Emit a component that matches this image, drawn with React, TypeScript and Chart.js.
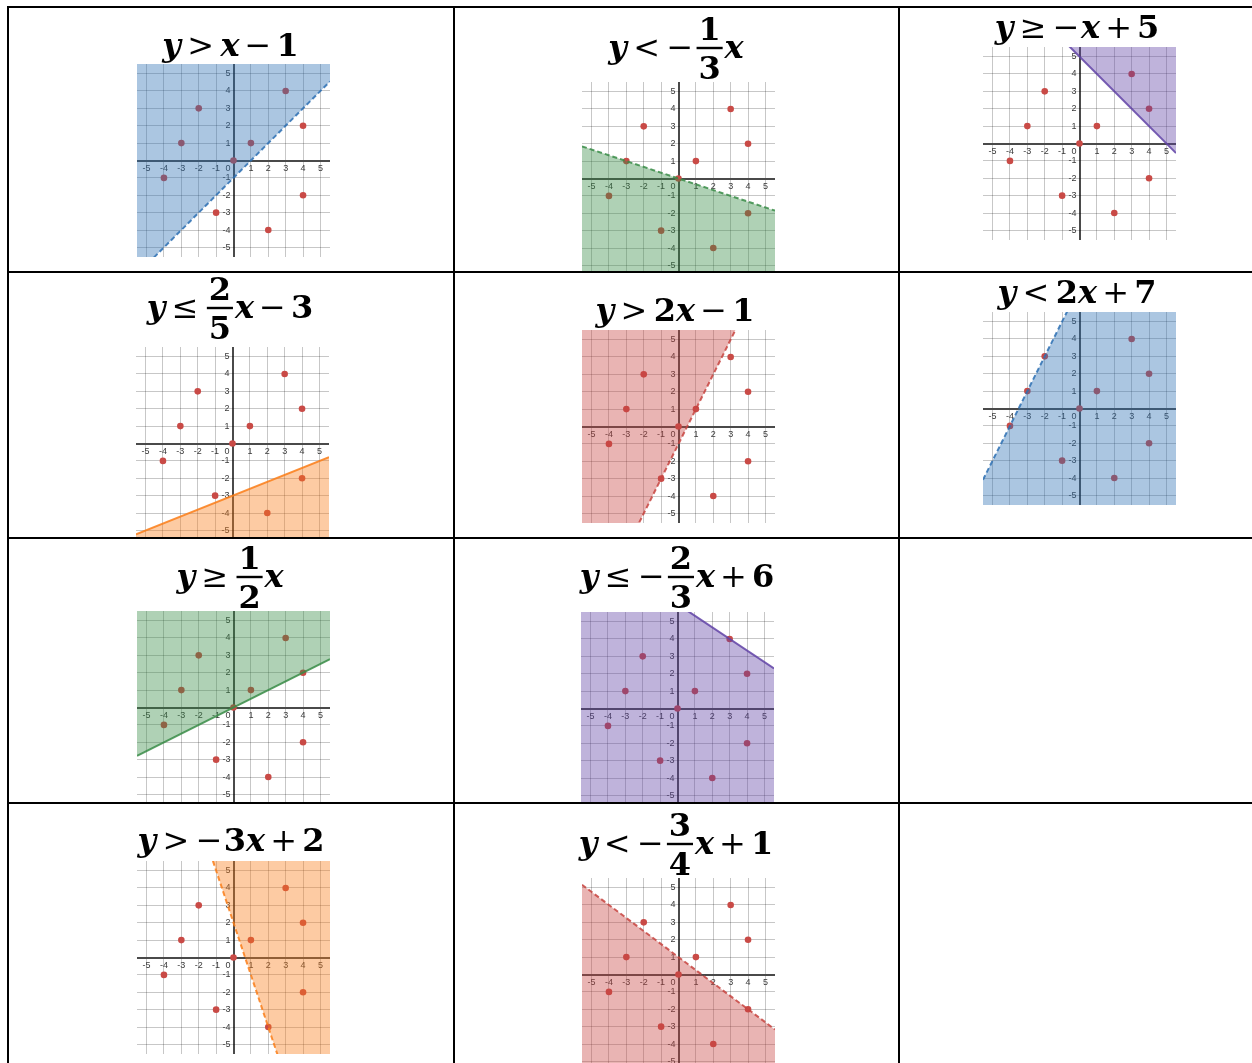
import React, { useEffect, useRef } from 'react';
import { Chart, registerables } from 'chart.js';

Chart.register(...registerables);

// ---------- data ----------
const pointX = [-4, -3, -2, -1, 0, 1, 2, 3, 4, 4];
const pointY = [-1, 1, 3, -3, 0, 1, -4, 4, 2, -2];
const tickValues = [-5, -4, -3, -2, -1, 0, 1, 2, 3, 4, 5];
const tickLabels = ['-5', '-4', '-3', '-2', '-1', '0', '1', '2', '3', '4', '5'];
const slopes = [1, -1 / 3, -1, 2 / 5, 2, 2, 1 / 2, -2 / 3, -3, -3 / 4];
const intercepts = [-1, 0, 5, -3, -1, 7, 0, 6, 2, 1];
const relations = ['>', '<', '≥', '≤', '>', '<', '≥', '≤', '>', '<'];
const axisMin = -5.55;
const axisMax = 5.55;

// title text, token kinds: v variable, n number, r relation, b binary op, u unary minus, f fraction
const titleTokens: string[][][] = [
  [['v', 'y'], ['r', '>'], ['v', 'x'], ['b', '−'], ['n', '1']],
  [['v', 'y'], ['r', '<'], ['u', '−'], ['f', '1', '3'], ['v', 'x']],
  [['v', 'y'], ['r', '≥'], ['u', '−'], ['v', 'x'], ['b', '+'], ['n', '5']],
  [['v', 'y'], ['r', '≤'], ['f', '2', '5'], ['v', 'x'], ['b', '−'], ['n', '3']],
  [['v', 'y'], ['r', '>'], ['n', '2'], ['v', 'x'], ['b', '−'], ['n', '1']],
  [['v', 'y'], ['r', '<'], ['n', '2'], ['v', 'x'], ['b', '+'], ['n', '7']],
  [['v', 'y'], ['r', '≥'], ['f', '1', '2'], ['v', 'x']],
  [['v', 'y'], ['r', '≤'], ['u', '−'], ['f', '2', '3'], ['v', 'x'], ['b', '+'], ['n', '6']],
  [['v', 'y'], ['r', '>'], ['u', '−'], ['n', '3'], ['v', 'x'], ['b', '+'], ['n', '2']],
  [['v', 'y'], ['r', '<'], ['u', '−'], ['f', '3', '4'], ['v', 'x'], ['b', '+'], ['n', '1']],
];

// ---------- styles / layout ----------
const shadeNames = ['blue', 'green', 'purple', 'orange', 'red', 'blue', 'green', 'purple', 'orange', 'red'];
const palette: Record<string, number[]> = {
  blue: [45, 112, 179],
  green: [56, 140, 70],
  purple: [96, 66, 166],
  orange: [250, 126, 25],
  red: [199, 68, 64],
};
const cellCols = [0, 1, 2, 0, 1, 2, 0, 1, 0, 1];
const cellRows = [0, 0, 0, 1, 1, 1, 2, 2, 3, 3];
const plotLefts = [137, 582, 983, 136, 582, 983, 137, 581, 137, 582];
const plotTops = [64, 82, 47, 347, 330, 312, 611, 612, 861, 878];
const titleCenters = [230.5, 676, 1077, 230, 675, 1077, 230, 677, 231, 676];
const titleBaselines = [56, 58, 38, 318, 321, 303, 587, 587, 851, 854];
const plotSize = 193;
const colLefts = [9, 455, 900];
const colRights = [453, 898, 1252];
const rowTops = [8, 273, 539, 804];
const rowBottoms = [271, 537, 802, 1063];
const canvasHeight = 300;
const titleFont = 32;

function drawMath(ctx: CanvasRenderingContext2D, tokens: string[][], cx: number, base: number, fs: number) {
  const fam = '"DejaVu Serif", serif';
  const fVar = `italic bold ${fs}px ${fam}`;
  const fNum = `bold ${fs}px ${fam}`;
  const fOp = `${fs}px ${fam}`;
  const relGap = fs * 0.2;
  const binGap = fs * 0.16;
  const fracPad = fs * 0.06;
  const items = tokens.map((t) => {
    let w = 0, l = 0, r = 0;
    const k = t[0];
    if (k === 'v') { ctx.font = fVar; w = ctx.measureText(t[1]).width; }
    else if (k === 'n') { ctx.font = fNum; w = ctx.measureText(t[1]).width; }
    else if (k === 'r') { ctx.font = fOp; w = ctx.measureText(t[1]).width; l = r = relGap; }
    else if (k === 'b') { ctx.font = fOp; w = ctx.measureText(t[1]).width; l = r = binGap; }
    else if (k === 'u') { ctx.font = fOp; w = ctx.measureText(t[1]).width; r = fs * 0.04; }
    else if (k === 'f') {
      ctx.font = fNum;
      w = Math.max(ctx.measureText(t[1]).width, ctx.measureText(t[2]).width) + fs * 0.12;
      l = r = fracPad;
    }
    return { t, w, l, r };
  });
  let total = 0;
  items.forEach((it) => (total += it.l + it.w + it.r));
  total -= items[0].l + items[items.length - 1].r;
  let x = cx - total / 2 - items[0].l;
  ctx.save();
  ctx.fillStyle = '#000';
  ctx.textBaseline = 'alphabetic';
  ctx.textAlign = 'left';
  items.forEach((it) => {
    x += it.l;
    const k = it.t[0];
    if (k === 'f') {
      ctx.font = fNum;
      ctx.textAlign = 'center';
      ctx.fillText(it.t[1], x + it.w / 2, base - fs * 0.56);
      ctx.fillText(it.t[2], x + it.w / 2, base + fs * 0.66);
      ctx.textAlign = 'left';
      ctx.fillRect(x, base - fs * 0.31 - fs * 0.04, it.w, fs * 0.075);
    } else {
      ctx.font = k === 'v' ? fVar : k === 'n' ? fNum : fOp;
      ctx.fillText(it.t[1], x, base);
    }
    x += it.w + it.r;
  });
  ctx.restore();
}

function Graph({ idx }: { idx: number }) {
  const ref = useRef<HTMLCanvasElement | null>(null);
  const col = cellCols[idx];
  const row = cellRows[idx];
  const cellLeft = colLefts[col];
  const cellTop = rowTops[row];
  const cellW = colRights[col] - colLefts[col];
  const cellH = rowBottoms[row] - rowTops[row];

  useEffect(() => {
    const canvas = ref.current;
    if (!canvas) return;
    const rgb = palette[shadeNames[idx]];
    const strict = relations[idx] === '>' || relations[idx] === '<';
    const above = relations[idx] === '>' || relations[idx] === '≥';
    const m = slopes[idx];
    const b = intercepts[idx];
    const padLeft = plotLefts[idx] - cellLeft;
    const padTop = plotTops[idx] - cellTop;
    const gridColor = 'rgba(0,0,0,0.22)';
    const axisColor = '#4a4a4a';
    const scaleOpts = {
      type: 'linear' as const,
      min: axisMin,
      max: axisMax,
      afterBuildTicks: (s: any) => {
        s.ticks = tickValues.map((value) => ({ value }));
      },
      ticks: { display: false },
      border: { display: false },
      grid: {
        drawTicks: false,
        color: (c: any) => (c.tick && c.tick.value === 0 ? axisColor : gridColor),
        lineWidth: (c: any) => (c.tick && c.tick.value === 0 ? 2 : 1),
      },
    };
    const labelPlugin = {
      id: 'axisLabels' + idx,
      beforeDatasetsDraw(chart: any) {
        const ctx = chart.ctx as CanvasRenderingContext2D;
        const xs = chart.scales.x;
        const ys = chart.scales.y;
        const x0 = xs.getPixelForValue(0);
        const y0 = ys.getPixelForValue(0);
        ctx.save();
        ctx.font = '9px "Liberation Sans", Arial, sans-serif';
        ctx.fillStyle = '#3a3a3a';
        tickValues.forEach((v, i) => {
          if (v === 0) return;
          ctx.textAlign = 'center';
          ctx.textBaseline = 'top';
          ctx.fillText(tickLabels[i], xs.getPixelForValue(v), y0 + 4);
          ctx.textAlign = 'right';
          ctx.textBaseline = 'middle';
          ctx.fillText(tickLabels[i], x0 - 3, ys.getPixelForValue(v));
        });
        ctx.textAlign = 'right';
        ctx.textBaseline = 'top';
        ctx.fillText(tickLabels[tickValues.indexOf(0)], x0 - 3, y0 + 4);
        ctx.restore();
      },
      afterDraw(chart: any) {
        drawMath(chart.ctx, titleTokens[idx], titleCenters[idx] - cellLeft, titleBaselines[idx] - cellTop, titleFont);
      },
    };
    const chart = new Chart(canvas, {
      type: 'scatter',
      data: {
        datasets: [
          {
            type: 'scatter',
            data: pointX.map((x, i) => ({ x, y: pointY[i] })),
            pointRadius: 3.3,
            pointBackgroundColor: '#c94a46',
            pointBorderWidth: 0,
            order: 1,
          } as any,
          {
            type: 'line',
            data: [
              { x: axisMin, y: m * axisMin + b },
              { x: axisMax, y: m * axisMax + b },
            ],
            borderColor: `rgba(${rgb[0]},${rgb[1]},${rgb[2]},0.85)`,
            borderWidth: 2,
            borderDash: strict ? [5, 3] : [],
            backgroundColor: `rgba(${rgb[0]},${rgb[1]},${rgb[2]},0.4)`,
            fill: above ? 'end' : 'start',
            pointRadius: 0,
            tension: 0,
            order: 0,
          } as any,
        ],
      },
      options: {
        responsive: false,
        animation: false,
        events: [],
        layout: {
          autoPadding: false,
          padding: {
            left: padLeft,
            top: padTop,
            right: cellW - padLeft - plotSize,
            bottom: canvasHeight - padTop - plotSize,
          },
        },
        plugins: { legend: { display: false }, tooltip: { enabled: false }, title: { display: false } },
        scales: { x: scaleOpts, y: scaleOpts } as any,
      },
      plugins: [labelPlugin],
    } as any);
    return () => chart.destroy();
  }, [idx]);

  return (
    <div style={{ position: 'absolute', left: cellLeft, top: cellTop, width: cellW, height: cellH, overflow: 'hidden' }}>
      <canvas ref={ref} width={cellW} height={canvasHeight} style={{ display: 'block', width: cellW, height: canvasHeight }} />
    </div>
  );
}

export default function App() {
  const hLines = [6, 271, 537, 802];
  const vLines = [7, 453, 898];
  return (
    <div style={{ position: 'absolute', left: 0, top: 0, width: 1252, height: 1063, overflow: 'hidden', background: '#fff' }}>
      {slopes.map((_, i) => (
        <Graph key={i} idx={i} />
      ))}
      {hLines.map((y, i) => (
        <div key={'h' + i} style={{ position: 'absolute', left: 7, top: y, width: 1252 - 7, height: 2, background: '#000' }} />
      ))}
      {vLines.map((x, i) => (
        <div key={'v' + i} style={{ position: 'absolute', left: x, top: 6, width: 2, height: 1063 - 6, background: '#000' }} />
      ))}
    </div>
  );
}
